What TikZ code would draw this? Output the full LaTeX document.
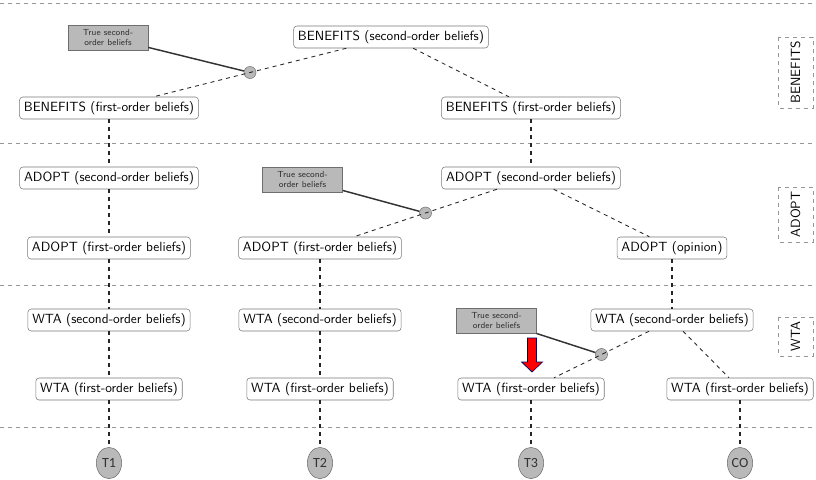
\documentclass[tikz,border=0pt]{standalone}
\usepackage{fontspec}
\newfontfamily\termfont{Carlito}
\usetikzlibrary{shapes.geometric,calc}

\definecolor{boxline}{RGB}{120,120,120}
\definecolor{greyfill}{RGB}{185,185,185}
\definecolor{greyline}{RGB}{110,110,110}
\definecolor{sepline}{RGB}{150,150,150}

\tikzset{
  belief/.style={draw=boxline, rounded corners=2.5pt, fill=white,
    font=\sffamily\fontsize{10}{12}\selectfont, inner xsep=3.3pt, inner ysep=0pt,
    minimum height=16.5pt, text height=7.5pt, text depth=2.5pt},
  truebox/.style={draw=greyline, fill=greyfill, align=center,
    font=\sffamily\fontsize{6.6}{8}\selectfont, minimum width=60pt, minimum height=19pt,
    inner sep=1pt, text=black!80},
  junction/.style={circle, draw=greyline, fill=greyfill, minimum size=9pt, inner sep=0pt},
  terminal/.style={ellipse, draw=greyline, fill=greyfill, minimum width=19pt,
    minimum height=23.5pt, inner sep=0pt, font=\termfont\fontsize{10.5}{12}\selectfont, text=black!80},
  section/.style={draw=sepline, dashed, rotate=90, font=\sffamily\fontsize{10}{12}\selectfont,
    minimum height=26pt, inner sep=0pt},
  vlink/.style={thick, dashed, black!85},
  dlink/.style={line width=0.65pt, dashed, black!85},
  truelink/.style={line width=1.1pt, black!80},
  sep/.style={thin, dashed, sepline},
}

\begin{document}
\begin{tikzpicture}[x=0.75pt, y=-0.75pt]
\useasboundingbox (0,0) rectangle (816,479);

% horizontal band separators
\foreach \yy in {3,143,285,427}
  \draw[sep] (0,\yy) -- (816,\yy);

% band labels
\node[section, minimum width=53pt] (lbBen) at (795.5,72.5) {BENEFITS};
\node[section, minimum width=41pt] (lbAdo) at (795.5,214.5) {ADOPT};
\node[section, minimum width=29pt] (lbWta) at (795.5,336.5) {WTA};

% BENEFITS band
\node[belief] (bs)  at (391,37)  {BENEFITS (second-order beliefs)};
\node[belief] (bf1) at (109,108) {BENEFITS (first-order beliefs)};
\node[belief] (bf2) at (531,108) {BENEFITS (first-order beliefs)};
\node[truebox] (tb1) at (108,37.5) {True second-\\order beliefs};
\node[junction] (j1) at ($(bs)!0.5!(bf1)$) {};

% ADOPT band
\node[belief] (as1) at (109,178) {ADOPT (second-order beliefs)};
\node[belief] (af1) at (109,248) {ADOPT (first-order beliefs)};
\node[belief] (af2) at (320,248) {ADOPT (first-order beliefs)};
\node[belief] (as2) at (531,178) {ADOPT (second-order beliefs)};
\node[belief] (ao)  at (672,248) {ADOPT (opinion)};
\node[truebox] (tb2) at (302.5,179.5) {True second-\\order beliefs};
\node[junction] (j2) at ($(as2)!0.5!(af2)$) {};

% WTA band
\node[belief] (ws1) at (109,320) {WTA (second-order beliefs)};
\node[belief] (wf1) at (109,389) {WTA (first-order beliefs)};
\node[belief] (ws2) at (320,320) {WTA (second-order beliefs)};
\node[belief] (wf2) at (320,389) {WTA (first-order beliefs)};
\node[belief] (ws4) at (672,320) {WTA (second-order beliefs)};
\node[belief] (wf3) at (531,389) {WTA (first-order beliefs)};
\node[belief] (wf4) at (740,389) {WTA (first-order beliefs)};
\node[truebox] (tb3) at (496.5,320.5) {True second-\\order beliefs};
\node[junction] (j3) at ($(ws4)!0.5!(wf3)$) {};

% terminal states
\node[terminal] (t1) at (109,463) {T1};
\node[terminal] (t2) at (320,463) {T2};
\node[terminal] (t3) at (531,463) {T3};
\node[terminal] (co) at (740,463) {CO};

% vertical links
\draw[vlink] (bf1) -- (as1);
\draw[vlink] (as1) -- (af1);
\draw[vlink] (af1) -- (ws1);
\draw[vlink] (ws1) -- (wf1);
\draw[vlink] (wf1) -- (t1);
\draw[vlink] (af2) -- (ws2);
\draw[vlink] (ws2) -- (wf2);
\draw[vlink] (wf2) -- (t2);
\draw[vlink] (bf2) -- (as2);
\draw[vlink] (ao) -- (ws4);
\draw[vlink] (wf3) -- (t3);
\draw[vlink] (wf4) -- (co);

% diagonal links
\draw[dlink] (bs) -- (j1.center) -- (bf1);
\draw[dlink] (bs) -- (bf2);
\draw[dlink] (as2) -- (j2.center) -- (af2);
\draw[dlink] (as2) -- (ao);
\draw[dlink] (ws4) -- (j3.center) -- (wf3);
\draw[dlink] (ws4) -- (wf4);

% true second-order beliefs feeding the junctions
\draw[truelink] (tb1) -- (j1);
\draw[truelink] (tb2) -- (j2);
\draw[truelink] (tb3) -- (j3);

% highlight arrow
\coordinate (arr) at (532,338);
\draw[fill=red, draw=blue!35!black, line width=0.5pt]
  ($(arr)+(-4.5,0)$) -- ($(arr)+(4.5,0)$) -- ($(arr)+(4.5,24)$) -- ($(arr)+(10.5,24)$)
  -- ($(arr)+(0,34)$) -- ($(arr)+(-10.5,24)$) -- ($(arr)+(-4.5,24)$) -- cycle;
\end{tikzpicture}
\end{document}
